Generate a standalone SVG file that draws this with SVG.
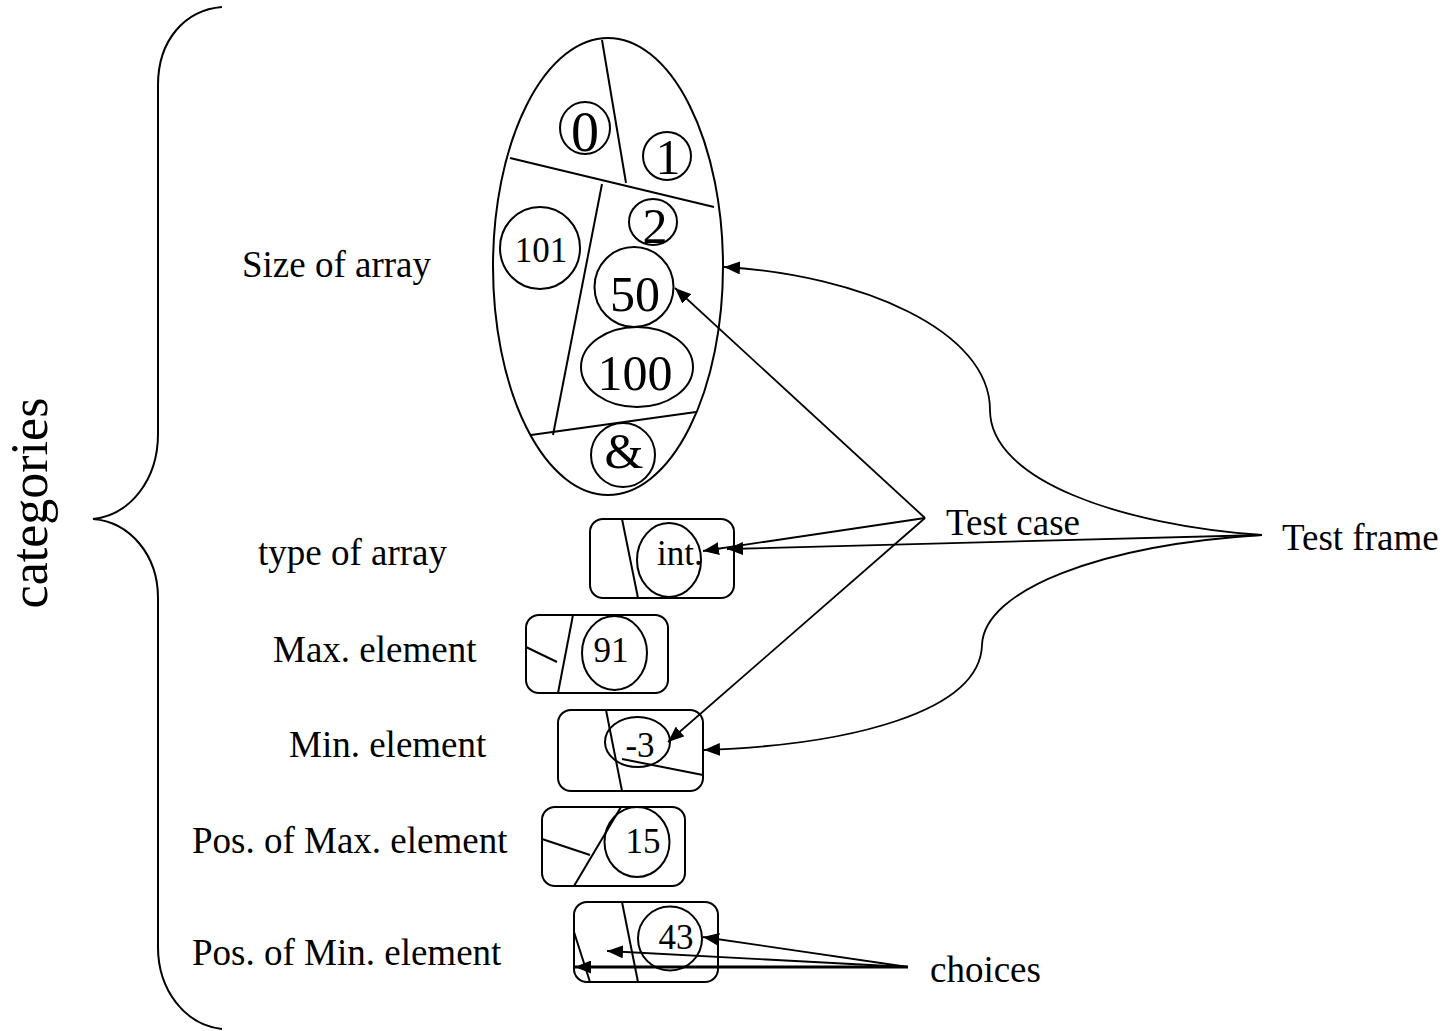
<svg xmlns="http://www.w3.org/2000/svg" width="1454" height="1031" viewBox="0 0 1454 1031">
<style>
text{font-family:"Liberation Serif","Times New Roman",serif;fill:#000}
.lbl{font-size:37px}
.big{font-size:50px;text-anchor:middle}
.sm{font-size:35px;text-anchor:middle}
.s{fill:none;stroke:#000;stroke-width:2}
.box{fill:#fff;stroke:#000;stroke-width:2}
.c{fill:none;stroke:#000;stroke-width:1.8}
</style>
<defs>
<marker id="ah" markerUnits="userSpaceOnUse" markerWidth="17" markerHeight="13" refX="16" refY="6.5" orient="auto">
<path d="M0,0 L16,6.5 L0,13 z" fill="#000"/>
</marker>
</defs>
<rect width="1454" height="1031" fill="#fff"/>

<g id="brace">
<path class="s" d="M222,7 C185,10 158,40 158,85 L158,434 C158,480 130,515 93,519 C130,522 158,555 158,598 L158,947 C158,990 185,1025 222,1029"/>
<text style="font-size:52px" text-anchor="middle" transform="translate(47,503) rotate(-90)">categories</text>
</g>

<g id="size-of-array">
<text class="lbl" x="242" y="277">Size of array</text>
<ellipse class="s" cx="608" cy="266.5" rx="115" ry="228.5"/>
<line class="s" x1="602" y1="40" x2="626" y2="183"/>
<line class="s" x1="510" y1="158" x2="714" y2="207"/>
<line class="s" x1="602" y1="184" x2="553" y2="435"/>
<line class="s" x1="531" y1="435" x2="696" y2="412"/>
<ellipse class="s" cx="585" cy="128" rx="25" ry="26"/>
<text class="big" x="585" y="151" style="font-size:56px">0</text>
<ellipse class="s" cx="667" cy="156" rx="24" ry="24"/>
<text class="big" x="668" y="174">1</text>
<ellipse class="s" cx="653" cy="222" rx="24" ry="23"/>
<text class="big" x="655" y="243">2</text>
<ellipse class="s" cx="540" cy="248" rx="40" ry="41"/>
<text class="sm" x="541" y="262">101</text>
<ellipse class="s" cx="634" cy="287" rx="39.5" ry="40"/>
<text class="big" x="635" y="311">50</text>
<ellipse class="s" cx="637" cy="367" rx="56" ry="40"/>
<text class="big" x="635" y="390">100</text>
<ellipse class="s" cx="623" cy="455" rx="32" ry="32"/>
<text class="big" x="624" y="468">&amp;</text>
</g>

<g id="type-of-array">
<text class="lbl" x="258" y="565">type of array</text>
<rect class="box" x="590" y="519" width="144" height="79" rx="13"/>
<line class="s" x1="622" y1="519" x2="638" y2="598"/>
<ellipse class="s" cx="669" cy="560" rx="32" ry="37"/>
<text class="sm" x="657" y="565" style="text-anchor:start">int.</text>
</g>

<g id="max-element">
<text class="lbl" x="273" y="662">Max. element</text>
<rect class="box" x="526" y="615" width="142" height="78" rx="13"/>
<line class="s" x1="573" y1="615" x2="558" y2="693"/>
<line class="s" x1="526" y1="647" x2="557" y2="662"/>
<ellipse class="s" cx="614.5" cy="653" rx="32.5" ry="37"/>
<text class="sm" x="611" y="662">91</text>
</g>

<g id="min-element">
<text class="lbl" x="289" y="757">Min. element</text>
<rect class="box" x="558" y="710" width="145" height="81" rx="13"/>
<line class="s" x1="606" y1="710" x2="622" y2="791"/>
<line class="s" x1="622" y1="759" x2="703" y2="775"/>
<ellipse class="s" cx="637.5" cy="742" rx="32.5" ry="25"/>
<text class="sm" x="640" y="757">-3</text>
</g>

<g id="pos-max-element">
<text class="lbl" x="192" y="853">Pos. of Max. element</text>
<rect class="box" x="542" y="807" width="143" height="79" rx="13"/>
<line class="s" x1="621" y1="807" x2="574" y2="886"/>
<line class="s" x1="542" y1="839" x2="590" y2="855"/>
<ellipse class="s" cx="637" cy="842" rx="32.5" ry="35"/>
<text class="sm" x="643" y="853">15</text>
</g>

<g id="pos-min-element">
<text class="lbl" x="192" y="965">Pos. of Min. element</text>
<rect class="box" x="574" y="902" width="144" height="80" rx="13"/>
<line class="s" x1="622" y1="902" x2="638" y2="982"/>
<line class="s" x1="574" y1="932" x2="590" y2="982"/>
<ellipse class="s" cx="670" cy="938.5" rx="32" ry="32"/>
<text class="sm" x="676" y="949">43</text>
</g>

<g id="test-case">
<text class="lbl" x="946" y="535">Test case</text>
</g>
<g id="test-frame">
<text class="lbl" x="1282" y="550">Test frame</text>
</g>
<g id="choices">
<text class="lbl" x="930" y="982">choices</text>
</g>

<g id="connectors">
<line class="c" x1="925" y1="518" x2="675" y2="288" marker-end="url(#ah)"/>
<line class="c" x1="925" y1="518" x2="703" y2="551" marker-end="url(#ah)"/>
<line class="c" x1="925" y1="518" x2="668" y2="742" marker-end="url(#ah)"/>
<path class="c" d="M1262,535 C1120,525 990,480 990,410 C990,330 860,275 724,267" marker-end="url(#ah)"/>
<line class="c" x1="1262" y1="535" x2="727" y2="549" marker-end="url(#ah)"/>
<path class="c" d="M1262,535 C1100,545 984,590 982,645 C980,712 850,745 704,750" marker-end="url(#ah)"/>
<line class="c" x1="908" y1="967" x2="703" y2="937" marker-end="url(#ah)"/>
<line class="c" x1="908" y1="967" x2="607" y2="951" marker-end="url(#ah)"/>
<line x1="908" y1="967" x2="575" y2="967" stroke="#000" stroke-width="3" marker-end="url(#ah)"/>
</g>
</svg>
